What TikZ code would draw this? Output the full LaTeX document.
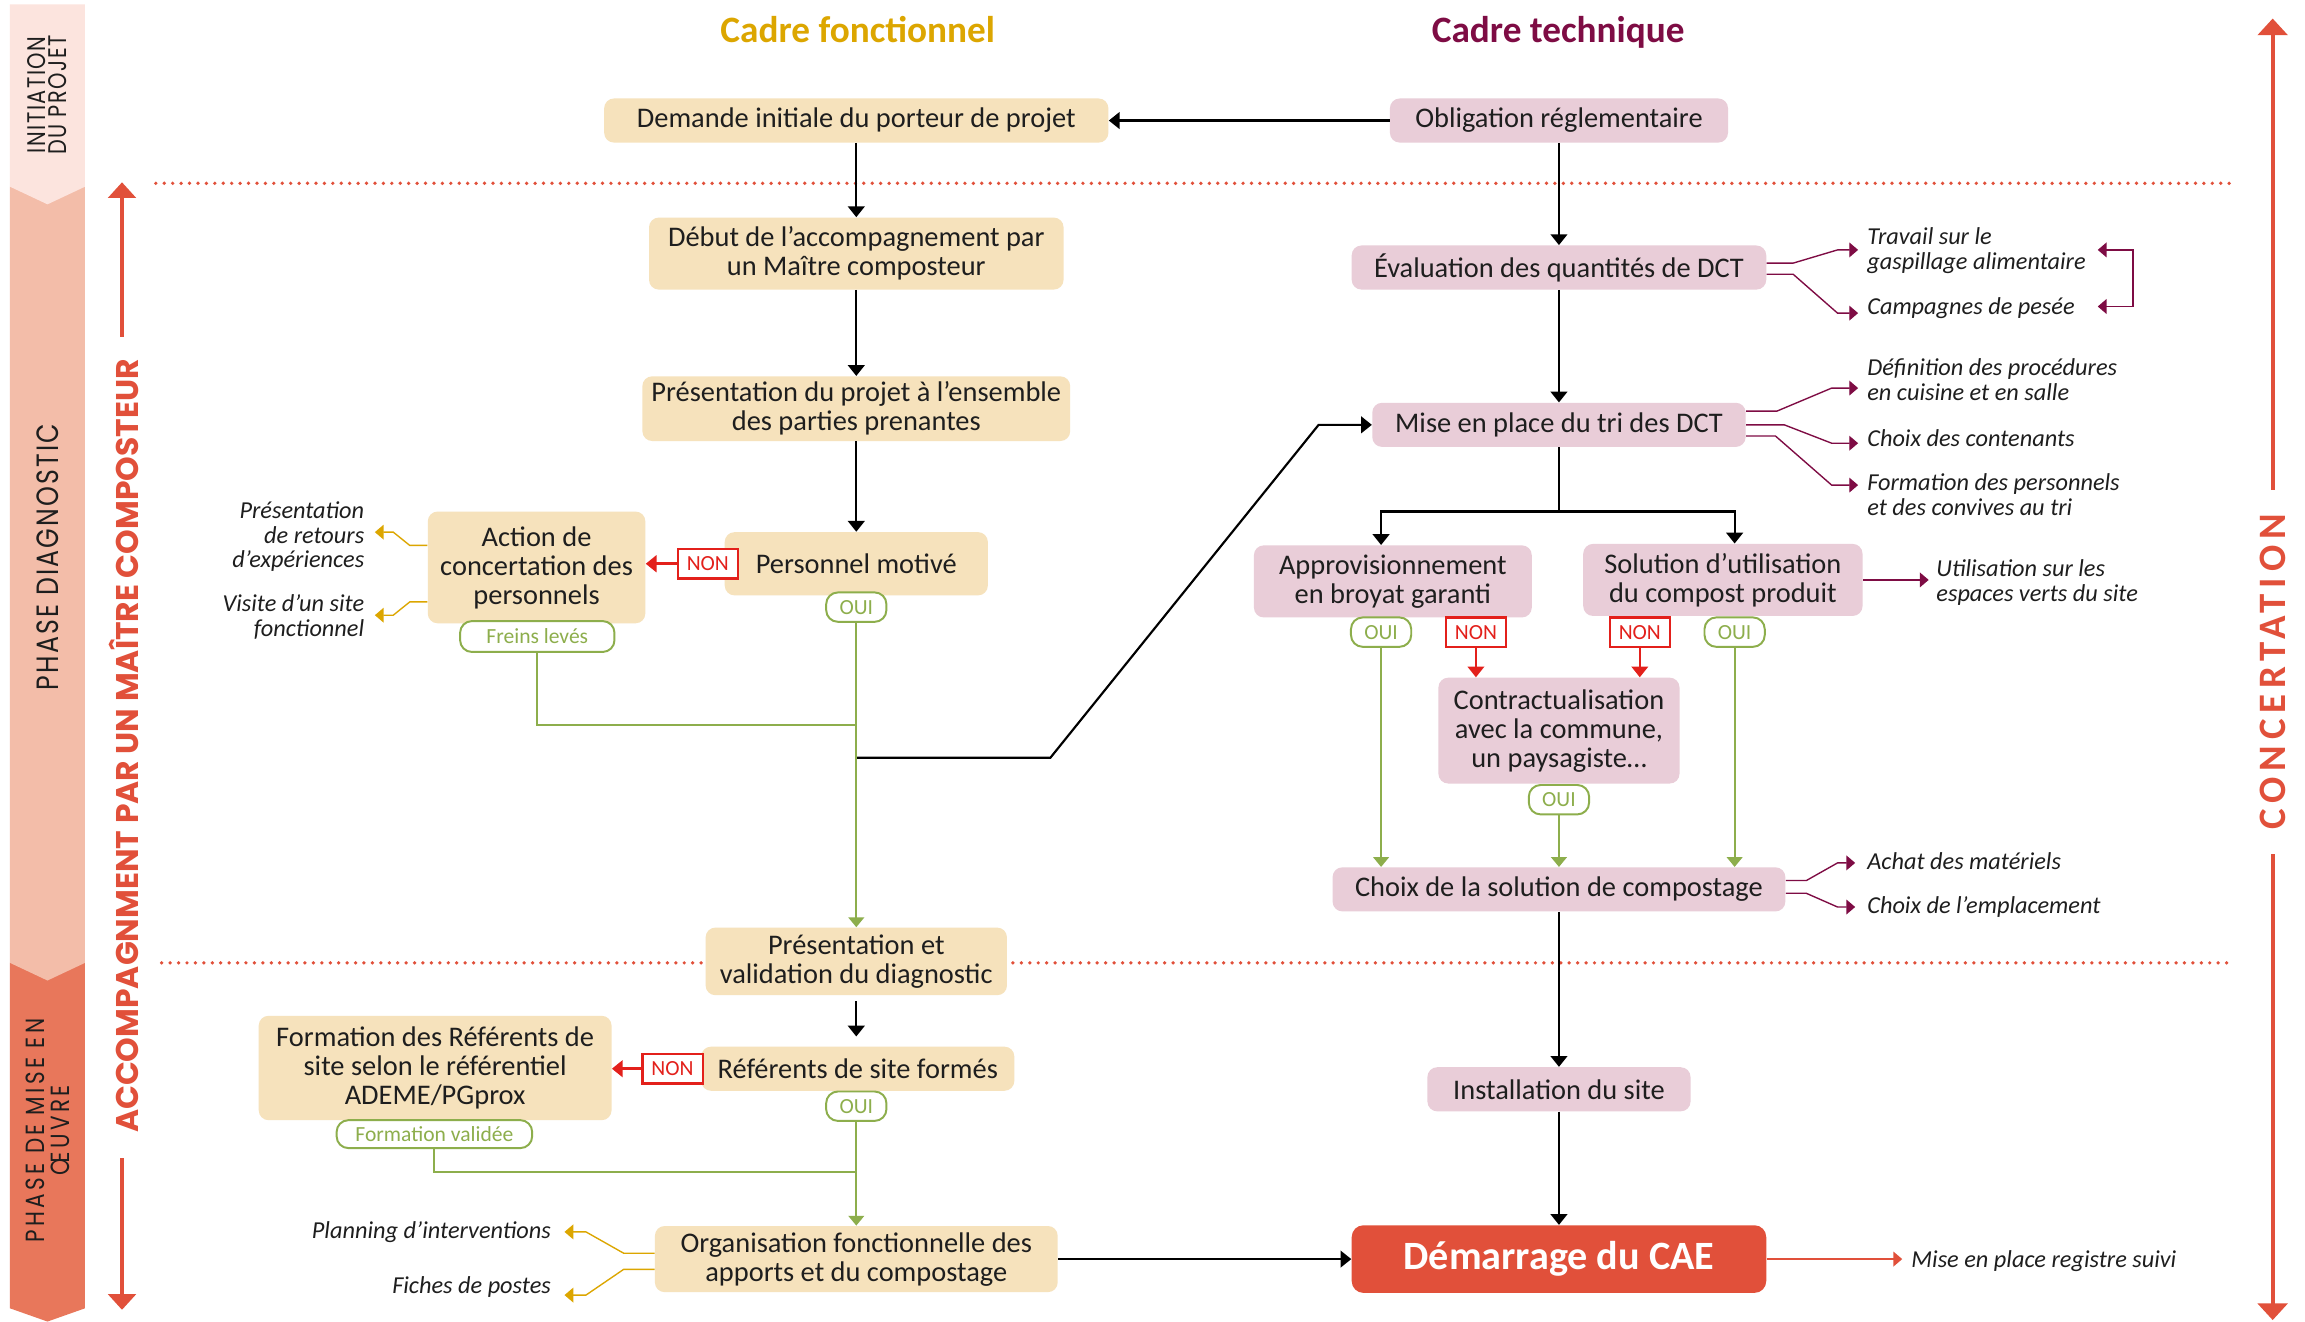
\documentclass[tikz,border=0pt]{standalone}
\usepackage{fontspec}
\setmainfont{Carlito}
\newfontfamily\popfont{Poppins}
\newfontfamily\popnarrow[FakeStretch=0.82]{Poppins}
\newfontfamily\concfont[LetterSpace=15]{Carlito}
\usetikzlibrary{arrows.meta,calc}
\definecolor{beige}{HTML}{F6E2BC}
\definecolor{pinkb}{HTML}{E9CDD8}
\definecolor{redc}{HTML}{E1503A}
\definecolor{redn}{HTML}{E3201B}
\definecolor{grn}{HTML}{8DAE4C}
\definecolor{gold}{HTML}{DCA600}
\definecolor{mag}{HTML}{7E0C44}
\definecolor{bandA}{HTML}{FCE4DE}
\definecolor{bandB}{HTML}{F3BDA9}
\definecolor{bandC}{HTML}{E8775B}
\definecolor{txt}{HTML}{1E1E1E}
\newcommand\bxf{\fontsize{14.5}{14.8}\selectfont}
\newcommand\sdf{\itshape\fontsize{12.4}{12.75}\selectfont}
\newcommand\smf{\fontsize{11}{12}\selectfont}
\begin{document}
\begin{tikzpicture}[x=0.75pt,y=-0.75pt,
  fb/.style={fill=beige, rounded corners=5pt, align=center, inner sep=0pt, font=\bxf, text=txt},
  tb/.style={fb, fill=pinkb},
  cae/.style={fill=redc, rounded corners=6pt, inner sep=0pt, text=white, font=\bfseries\fontsize{20.5}{21}\selectfont},
  oui/.style={draw=grn, line width=1pt, fill=white, rounded corners=6pt, text=grn, font=\smf, minimum width=30.75pt, minimum height=15pt, inner sep=0pt},
  non/.style={draw=redn, line width=1.2pt, fill=white, text=redn, font=\smf, minimum width=30.75pt, minimum height=15pt, inner sep=0pt},
  sd/.style={font=\sdf, text=txt, inner sep=0pt},
  ttl/.style={font=\bfseries\fontsize{19}{20}\selectfont, anchor=base},
  blk/.style={line width=1.1pt, black},
  blkarr/.style={blk, -{Triangle[length=5.5pt,width=8.5pt]}},
  gline/.style={line width=1pt, grn},
  garr/.style={gline, -{Triangle[length=5pt,width=8pt]}},
  rarr/.style={line width=1.1pt, redn, -{Triangle[length=5.5pt,width=8.5pt]}},
  marr/.style={line width=0.7pt, mag, -{Triangle[length=4.5pt,width=7.5pt]}},
  goarr/.style={line width=0.7pt, gold, -{Triangle[length=4.5pt,width=7.5pt]}},
  dotline/.style={redc, line width=1.9pt, line cap=round, dash pattern=on 0pt off 4.3pt},
  bigarr/.style={redc, line width=2pt, -{Triangle[length=8pt,width=14pt]}},
  bandtxt/.style={rotate=90, text=txt, align=center, inner sep=0pt}
]
\fill[white] (0,0) rectangle (1568,899);
\useasboundingbox (0,0) rectangle (1568,899);

% phase bands
\fill[bandC] (6.8,655) -- (57.8,655) -- (57.8,890) -- (32.3,899) -- (6.8,890) -- cycle;
\fill[bandB] (6.8,127) -- (57.8,127) -- (57.8,655) -- (32.3,667) -- (6.8,655) -- cycle;
\fill[bandA] (6.8,3) -- (57.8,3) -- (57.8,127) -- (32.3,139) -- (6.8,127) -- cycle;
\node[bandtxt, font=\popnarrow\addfontfeatures{LetterSpace=6}\fontsize{13}{11}\selectfont] (pI) at (32,64.5) {INITIATION\\DU PROJET};
\node[bandtxt, font=\popnarrow\addfontfeatures{LetterSpace=7}\fontsize{15.7}{16}\selectfont] (pD) at (32.5,379) {PHASE DIAGNOSTIC};
\node[bandtxt, font=\popnarrow\addfontfeatures{LetterSpace=13}\fontsize{13.4}{13.2}\selectfont] (pM) at (32.5,769) {PHASE DE MISE EN\\ŒUVRE};

% accompagnement
\node[rotate=90, text=redc, inner sep=0pt, font=\popfont\bfseries\fontsize{16}{16}\selectfont] (acc) at (84.6,507.5) {ACCOMPAGNMENT PAR UN MAÎTRE COMPOSTEUR};
\coordinate (accU0) at (83,229); \coordinate (accU1) at (83,124);
\coordinate (accD0) at (83,788); \coordinate (accD1) at (83,891);
\draw[bigarr] (accU0) -- (accU1);
\draw[bigarr] (accD0) -- (accD1);

% concertation
\node[rotate=90, text=redc, inner sep=0pt, font=\concfont\bfseries\fontsize{19.8}{20}\selectfont] (conc) at (1546,457) {CONCERTATION};
\coordinate (cU0) at (1546,333); \coordinate (cU1) at (1546,12.6);
\coordinate (cD0) at (1546,581); \coordinate (cD1) at (1546,898);
\draw[bigarr, line width=2.2pt, -{Triangle[length=8.5pt,width=15pt]}] (cU0) -- (cU1);
\draw[bigarr, line width=2.2pt, -{Triangle[length=8.5pt,width=15pt]}] (cD0) -- (cD1);

% dotted phase separators
\coordinate (d1a) at (106,124.7); \coordinate (d1b) at (1522,124.7);
\coordinate (d2a) at (110,655); \coordinate (d2b) at (1518,655);
\draw[dotline] (d1a) -- (d1b);
\draw[dotline] (d2a) -- (d2b);

% titles
\node[ttl, text=gold] (h1) at (583.5,29) {Cadre fonctionnel};
\node[ttl, text=mag] (h2) at (1060,29) {Cadre technique};

% boxes
\node[fb, minimum width=257.25pt, minimum height=22.5pt] (dem) at (582.5,82) {Demande initiale du porteur de projet};
\node[tb, minimum width=172.5pt, minimum height=22.5pt] (obl) at (1060.5,82) {Obligation réglementaire};
\node[fb, minimum width=211.5pt, minimum height=36.75pt] (deb) at (582.5,172.5) {Début de l’accompagnement par\\un Maître composteur};
\node[tb, minimum width=211.5pt, minimum height=22.5pt] (eva) at (1060.5,182) {Évaluation des quantités de DCT};
\node[fb, minimum width=218.25pt, minimum height=33pt] (pres) at (582.5,278) {Présentation du projet à l’ensemble\\des parties prenantes};
\node[tb, minimum width=190.5pt, minimum height=22.5pt] (mise) at (1060.5,289) {Mise en place du tri des DCT};
\node[fb, minimum width=111pt, minimum height=57pt] (act) at (365,386) {Action de\\concertation des\\personnels};
\node[fb, minimum width=134.25pt, minimum height=32.25pt] (pers) at (582.5,383.5) {Personnel motivé};
\node[non] (nonA) at (481.5,383.5) {NON};
\node[oui] (ouiA) at (582.5,413) {OUI};
\node[oui, minimum width=78.75pt, minimum height=15.75pt] (frein) at (365.5,433) {Freins levés};
\node[tb, minimum width=141.75pt, minimum height=36.75pt] (appro) at (947.5,395.5) {Approvisionnement\\en broyat garanti};
\node[tb, minimum width=142.5pt, minimum height=36.75pt] (sol) at (1172,394.5) {Solution d’utilisation\\du compost produit};
\node[oui] (ouiB) at (939.5,430) {OUI};
\node[non] (nonB) at (1004,430) {NON};
\node[non] (nonC) at (1115.5,430) {NON};
\node[oui] (ouiC) at (1180,430) {OUI};
\node[tb, minimum width=123pt, minimum height=54pt] (contr) at (1060.5,497) {Contractualisation\\avec la commune,\\un paysagiste…};
\node[oui] (ouiD) at (1060.5,544) {OUI};
\node[tb, minimum width=231pt, minimum height=22.5pt] (choix) at (1060.5,605) {Choix de la solution de compostage};
\node[fb, minimum width=153.75pt, minimum height=34.5pt] (val) at (582.5,654) {Présentation et\\validation du diagnostic};
\node[fb, minimum width=159.75pt, minimum height=22.5pt] (ref) at (583.5,727) {Référents de site formés};
\node[non] (nonR) at (457.5,727) {NON};
\node[fb, minimum width=180pt, minimum height=53.25pt] (form) at (296,726.5) {Formation des Référents de\\site selon le référentiel\\ADEME/PGprox};
\node[oui, minimum width=99.75pt, minimum height=14.25pt] (fval) at (295.5,771.5) {Formation validée};
\node[oui] (ouiR) at (582.5,752.5) {OUI};
\node[fb, minimum width=205.5pt, minimum height=33.75pt] (org) at (582.5,856.5) {Organisation fonctionnelle des\\apports et du compostage};
\node[tb, minimum width=134.25pt, minimum height=22.5pt] (inst) at (1060.5,741) {Installation du site};
\node[cae, minimum width=211.5pt, minimum height=34.5pt] (cae) at (1060.5,856.5) {Démarrage du CAE};

% side texts
\node[sd, anchor=east, align=right] (tA1) at (248,365) {Présentation\\de retours\\d’expériences};
\node[sd, anchor=east, align=right] (tA2) at (248,419.5) {Visite d’un site\\fonctionnel};
\node[sd, anchor=west, align=left] (tE1) at (1270,170.5) {Travail sur le\\gaspillage alimentaire};
\node[sd, anchor=west] (tE2) at (1270,209.5) {Campagnes de pesée};
\node[sd, anchor=west, align=left] (tM1) at (1270,258) {Définition des procédures\\en cuisine et en salle};
\node[sd, anchor=west] (tM2) at (1270,298) {Choix des contenants};
\node[sd, anchor=west, align=left] (tM3) at (1270,336.5) {Formation des personnels\\et des convives au tri};
\node[sd, anchor=west, align=left] (tS) at (1317,396.5) {Utilisation sur les\\espaces verts du site};
\node[sd, anchor=west] (tC1) at (1270,586) {Achat des matériels};
\node[sd, anchor=west] (tC2) at (1270,617) {Choix de l’emplacement};
\node[sd, anchor=east] (tO1) at (375,838) {Planning d’interventions};
\node[sd, anchor=east] (tO2) at (375,875.5) {Fiches de postes};
\node[sd, anchor=west] (tD) at (1300,858) {Mise en place registre suivi};

% main black connectors
\draw[blkarr] (obl.west) -- (dem.east);
\draw[blkarr] (dem.south) -- (deb.north);
\draw[blkarr] (obl.south) -- (eva.north);
\draw[blkarr] (deb.south) -- (pres.north);
\draw[blkarr] (eva.south) -- (mise.north);
\draw[blkarr] (pres.south) -- (pers.north);
\coordinate (j2) at (582.5,515.5);
\coordinate (k1) at (714.5,515.5);
\coordinate (k2) at (897,289);
\draw[blkarr] (j2) -- (k1) -- (k2) -- (mise.west);
\coordinate (f0) at (1060.5,348);
\draw[blk] (mise.south) -- (f0);
\draw[blkarr] (f0) -| (appro.north -| ouiB);
\draw[blkarr] (f0) -| (sol.north -| ouiC);
\draw[blkarr] (choix.south) -- (inst.north);
\draw[blkarr] (inst.south) -- (cae.north);
\draw[blkarr, shorten <=3pt, shorten >=5pt] (val.south) -- (ref.north -| val.south);
\draw[blkarr] (org.east) -- (cae.west);

% green connectors
\coordinate (j1) at (582.5,493);
\draw[gline] (frein.south) |- (j1);
\draw[garr] (ouiA.south) -- (val.north);
\draw[garr] (ouiB.south) -- (choix.north -| ouiB.south);
\draw[garr] (ouiD.south) -- (choix.north -| ouiD.south);
\draw[garr] (ouiC.south) -- (choix.north -| ouiC.south);
\coordinate (j3) at (582.5,797.5);
\draw[gline] (fval.south) |- (j3);
\draw[garr] (ouiR.south) -- (org.north -| ouiR.south);

% red NON connectors
\draw[rarr, line width=1.4pt] (nonA.west) -- (act.east |- nonA.west);
\draw[rarr, line width=1.4pt] (nonR.west) -- (form.east |- nonR.west);
\draw[rarr] (nonB.south) -- (contr.north -| nonB.south);
\draw[rarr] (nonC.south) -- (contr.north -| nonC.south);

% magenta side arrows
\coordinate (aE1) at (1264,170); \coordinate (aE2) at (1264,213);
\draw[marr] ([yshift=2.25pt]eva.east) -- ++(18,0) -- (1250,170) -- (aE1);
\draw[marr] ([yshift=-3.4pt]eva.east) -- ++(18,0) -- (1250,213) -- (aE2);
\coordinate (bk1) at (1427,170); \coordinate (bk2) at (1427,208.5);
\draw[line width=0.7pt, mag, {Triangle[length=4.5pt,width=7.5pt]}-{Triangle[length=4.5pt,width=7.5pt]}] (bk1) -- (1451,170) -- (1451,208.5) -- (bk2);
\coordinate (aM1) at (1264,264); \coordinate (aM2) at (1264,301.5); \coordinate (aM3) at (1264,330);
\draw[marr] ([yshift=7pt]mise.east) -- ++(21,0) -- (1246,264) -- (aM1);
\draw[marr] (mise.east) -- ++(26,0) -- (1246,301.5) -- (aM2);
\draw[marr] ([yshift=-5.7pt]mise.east) -- ++(20,0) -- (1246,330) -- (aM3);
\coordinate (aS) at (1312,394.5);
\draw[marr] (sol.east) -- (aS);
\coordinate (aC1) at (1262,587); \coordinate (aC2) at (1262,617);
\draw[marr] ([yshift=4.5pt]choix.east) -- ++(14,0) -- (1250,587) -- (aC1);
\draw[marr] ([yshift=-2pt]choix.east) -- ++(14,0) -- (1250,617) -- (aC2);

% gold side arrows
\coordinate (aA1) at (255,362); \coordinate (aA2) at (255,418.5);
\draw[goarr] ([yshift=11.25pt]act.west) -- ++(-12,0) -- (267.5,362) -- (aA1);
\draw[goarr] ([yshift=-17.6pt]act.west) -- ++(-12,0) -- (267.5,418.5) -- (aA2);
\coordinate (aO1) at (384,838); \coordinate (aO2) at (384,881);
\draw[goarr] ([yshift=3pt]org.west) -- ++(-21,0) -- (398.6,838) -- (aO1);
\draw[goarr] ([yshift=-5.25pt]org.west) -- ++(-21,0) -- (398.6,881) -- (aO2);

% red registre arrow
\coordinate (aD) at (1294,856.5);
\draw[line width=0.8pt, redc, -{Triangle[length=4.5pt,width=7.5pt]}] (cae.east) -- (aD);
\end{tikzpicture}
\end{document}
